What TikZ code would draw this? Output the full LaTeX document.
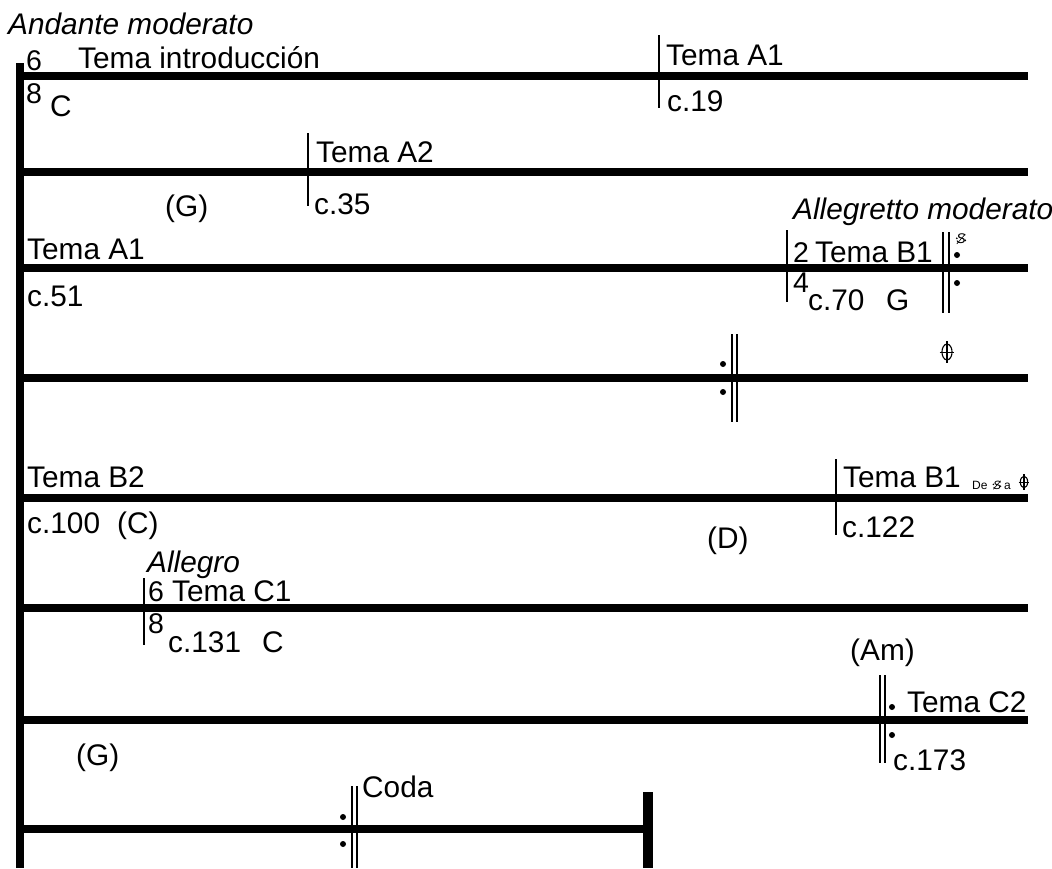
\documentclass[tikz,border=0pt]{standalone}
\usepackage{fontspec}
\setmainfont{Liberation Sans}
\begin{document}
\begin{tikzpicture}[x=1pt,y=-1pt,
  staff/.style={line width=8pt},
  barline/.style={line width=1.6pt},
  endbar/.style={line width=10pt},
  lbl/.style={anchor=base west,inner sep=0pt,font=\fontsize{29.8}{31}\selectfont},
  ital/.style={lbl,font=\fontsize{29.8}{31}\selectfont\itshape},
  tsig/.style={anchor=base west,inner sep=0pt,font=\fontsize{28.5}{29}\selectfont},
  small/.style={anchor=base west,inner sep=0pt,font=\fontsize{12}{12}\selectfont},
  segno/.pic={
    \node[inner sep=0pt,font=\fontsize{#1}{#1}\selectfont\itshape] (s) at (0,0) {S};
    \draw[line width=0.6pt] (-0.3*#1,0.35*#1) -- (0.3*#1,-0.35*#1);
    \fill (-0.3*#1,-0.05*#1) circle (0.07*#1);
    \fill (0.3*#1,0.1*#1) circle (0.07*#1);
  },
  coda/.pic={
    \draw[line width=1.1pt] (0,0) ellipse (0.23*#1 and 0.36*#1);
    \draw[line width=1.1pt] (0,-0.5*#1) -- (0,0.5*#1);
    \draw[line width=0.8pt] (-0.34*#1,0) -- (0.34*#1,0);
  }]
\useasboundingbox (0,0) rectangle (1052,868);

% left vertical bar
\coordinate (vtop) at (20,63);
\coordinate (vbot) at (20,868);
\draw[line width=8pt] (vtop) -- (vbot);

% staff lines
\foreach \y/\n in {75.5/1,172/2,268/3,378/4,498/5,608/6,720/7}{
  \coordinate (L\n) at (16,\y);
  \coordinate (R\n) at (1028,\y);
  \draw[staff] (L\n) -- (R\n);
}
\coordinate (L8) at (16,829);
\coordinate (R8) at (648,829);
\draw[staff] (L8) -- (R8);
\coordinate (eb1) at (648,792);
\coordinate (eb2) at (648,868);
\draw[endbar] (eb1) -- (eb2);

% thin bar lines
\foreach \x/\a/\b/\n in {659/35/108/a,308/133/206/b,787/230/302/c,144/578/645/d,836/459/535/e}{
  \coordinate (t\n) at (\x,\a);
  \coordinate (u\n) at (\x,\b);
  \draw[barline] (t\n) -- (u\n);
}

% double bars with repeat dots
\draw[barline] (943,232) -- (943,313);
\draw[barline] (949,232) -- (949,313);
\fill (957,255) circle (3);
\fill (957,283) circle (3);
\draw[barline] (732,334) -- (732,422);
\draw[barline] (737,334) -- (737,422);
\fill (723,364) circle (3);
\fill (723,392) circle (3);
\draw[barline] (880,675) -- (880,763);
\draw[barline] (885,675) -- (885,763);
\fill (892,707) circle (3);
\fill (892,735) circle (3);
\draw[barline] (352,786) -- (352,868);
\draw[barline] (357,786) -- (357,868);
\fill (343,817) circle (3);
\fill (343,844) circle (3);

% signs
\pic at (961,239) {segno=14};
\pic at (947,352) {coda=22};

% texts
\node[ital] (t1) at (8,34) {Andante moderato};
\node[tsig] (n6a) at (26,70) {6};
\node[lbl] (ti) at (78,68) {Tema introducción};
\node[tsig] (n8a) at (26,103) {8};
\node[lbl] (cC1) at (50,116) {C};
\node[lbl] (ta1) at (666,65) {Tema A1};
\node[lbl] (c19) at (667,111) {c.19};
\node[lbl] (ta2) at (316,162) {Tema A2};
\node[lbl] (c35) at (314,214) {c.35};
\node[lbl] (g1) at (165,216) {(G)};
\node[ital] (am) at (793,219) {Allegretto moderato};
\node[lbl] (ta1b) at (27,259) {Tema A1};
\node[lbl] (c51) at (27,306) {c.51};
\node[tsig] (n2) at (793,262) {2};
\node[lbl] (tb1) at (815,262) {Tema B1};
\node[tsig] (n4) at (793,292) {4};
\node[lbl] (c70) at (808,310) {c.70};
\node[lbl] (gG) at (886,310) {G};
\node[lbl] (tb2) at (27,487) {Tema B2};
\node[lbl] (c100) at (27,533) {c.100};
\node[lbl] (cc) at (117,533) {(C)};
\node[lbl] (tb1b) at (843,487) {Tema B1};
\node[small] (de) at (972,489) {De};
\pic at (997,485) {segno=12};
\node[small] (aa) at (1004,489) {a};
\pic at (1024,482) {coda=16};
\node[lbl] (dd) at (707,548) {(D)};
\node[lbl] (c122) at (842,537) {c.122};
\node[ital] (al) at (147,572) {Allegro};
\node[tsig] (n6b) at (148,601) {6};
\node[lbl] (tc1) at (172,601) {Tema C1};
\node[tsig] (n8b) at (148,633) {8};
\node[lbl] (c131) at (168,652) {c.131};
\node[lbl] (cC2) at (262,652) {C};
\node[lbl] (amn) at (850,660) {(Am)};
\node[lbl] (tc2) at (907,712) {Tema C2};
\node[lbl] (c173) at (893,770) {c.173};
\node[lbl] (g2) at (76,765) {(G)};
\node[lbl] (coda) at (362,797) {Coda};
\end{tikzpicture}
\end{document}
